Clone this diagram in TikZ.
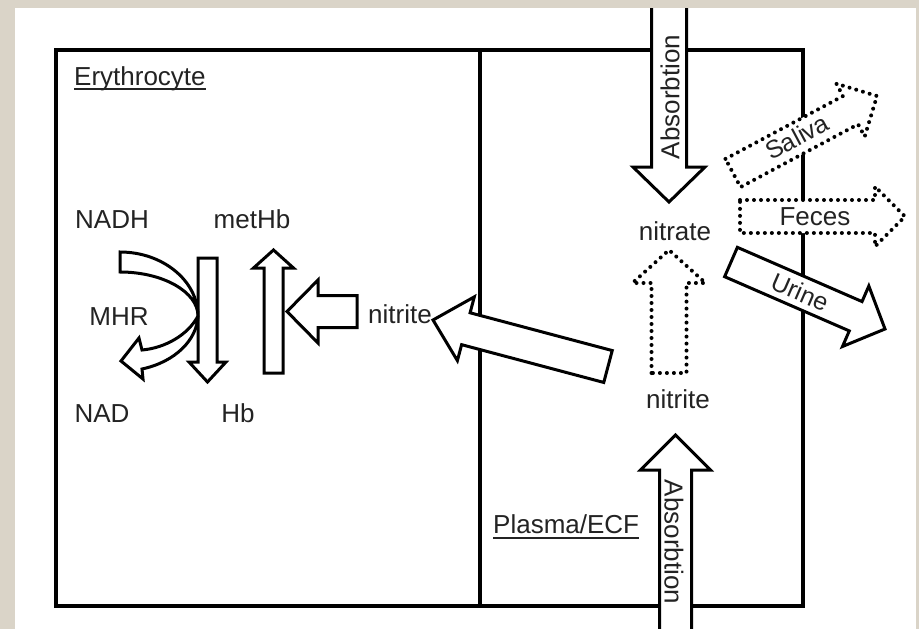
\documentclass[tikz,border=0pt]{standalone}
\usepackage{fontspec}
\setmainfont{Liberation Sans}
\usetikzlibrary{calc}
\definecolor{bgtex}{RGB}{218,212,200}
\definecolor{txt}{RGB}{35,35,35}
% #1 style, #2 from, #3 to, #4 shaft half width, #5 head half width, #6 head length, #7 name
\newcommand\fatarrow[7]{%
  \coordinate (#7h) at ($(#3)!#6pt!(#2)$);
  \path[#1] ($(#2)!#4pt!90:(#3)$) -- ($(#7h)!#4pt!90:(#3)$) -- ($(#7h)!#5pt!90:(#3)$)
    -- (#3) -- ($(#7h)!#5pt!-90:(#3)$) -- ($(#7h)!#4pt!-90:(#3)$) -- ($(#2)!#4pt!-90:(#3)$) -- cycle;}
\begin{document}
\begin{tikzpicture}[x=1pt,y=-1pt,
  lbl/.style={font=\fontsize{26}{28}\selectfont, text=txt, inner sep=0pt},
  slbl/.style={font=\fontsize{25}{27}\selectfont, text=txt, inner sep=0pt},
  solidarrow/.style={draw=black, fill=white, line width=3pt, line join=miter},
  dotarrow/.style={draw=black, fill=white, line width=4pt, dash pattern=on 0pt off 7pt, line cap=round, line join=round},
  boxline/.style={draw=black, line width=3.5pt},
  uline/.style={draw=txt, line width=1.8pt}]
\useasboundingbox (0,0) rectangle (919,629);
\fill[bgtex] (0,0) rectangle (919,629);
\fill[white] (15,8) rectangle (916,629);
\begin{scope}
\clip (15,8) rectangle (916,629);
\draw[boxline] (56,50) rectangle (803,606);
\draw[boxline] (480,50) -- (480,606);
% arrow end points
\coordinate (absTs) at (669,-5);    \coordinate (absTe) at (669,202);
\coordinate (absBs) at (675.5,645); \coordinate (absBe) at (675.5,435);
\coordinate (redS) at (669,373);    \coordinate (redE) at (669,250);
\coordinate (salS) at (733,173);    \coordinate (salE) at (877,96);
\coordinate (fecS) at (740,216.5);  \coordinate (fecE) at (905,216.5);
\coordinate (uriS) at (731,262);    \coordinate (uriE) at (885,329);
\coordinate (inS) at (608,366.5);   \coordinate (inE) at (433,320);
\coordinate (oxS) at (357,311.5);   \coordinate (oxE) at (287,311.5);
\coordinate (upS) at (273.5,373);   \coordinate (upE) at (273.5,250);
\coordinate (dnS) at (207.5,258);   \coordinate (dnE) at (207.5,382);
\fatarrow{solidarrow}{absTs}{absTe}{17.5}{36}{35}{a1}
\fatarrow{solidarrow}{absBs}{absBe}{16}{35}{35}{a2}
\fatarrow{dotarrow}{redS}{redE}{17.5}{36.5}{33}{a3}
\fatarrow{dotarrow}{salS}{salE}{16}{30}{30}{a4}
\fatarrow{dotarrow}{fecS}{fecE}{16.5}{30}{30}{a5}
\fatarrow{solidarrow}{uriS}{uriE}{16}{33}{32}{a6}
\fatarrow{solidarrow}{inS}{inE}{16.5}{33}{34}{a7}
\fatarrow{solidarrow}{oxS}{oxE}{16}{31.5}{31}{a8}
\fatarrow{solidarrow}{upS}{upE}{9.5}{20}{18}{a9}
\fatarrow{solidarrow}{dnS}{dnE}{9.5}{18.5}{20}{a10}
% curved MHR arrow
\draw[solidarrow] (120,252) .. controls (163,252) and (198,281) .. (198,316)
  .. controls (197,340) and (175,362) .. (142,369)
  -- (143,379) -- (121,361) -- (139,338) -- (142,350)
  .. controls (165,348) and (188,335) .. (198,316)
  .. controls (198,292) and (163,272) .. (120,272) -- cycle;
\end{scope}
% labels
\node[lbl, anchor=base west] (ery) at (74,85) {Erythrocyte};
\draw[uline] ($(ery.base west)+(0,4)$) -- ($(ery.base east)+(0,4)$);
\node[lbl, anchor=base west] (plasma) at (493,533) {Plasma/ECF};
\draw[uline] ($(plasma.base west)+(0,5)$) -- ($(plasma.base east)+(0,5)$);
\node[lbl, anchor=base] (nadh) at (112,228) {NADH};
\node[lbl, anchor=base] (methb) at (252,228) {metHb};
\node[lbl, anchor=base] (mhr) at (119,325) {MHR};
\node[lbl, anchor=base] (nad) at (102,422) {NAD};
\node[lbl, anchor=base] (hb) at (238,422) {Hb};
\node[lbl, anchor=base] (nitriteL) at (400,323) {nitrite};
\node[lbl, anchor=base] (nitrate) at (675,240) {nitrate};
\node[lbl, anchor=base] (nitriteR) at (678,408) {nitrite};
\node[lbl, rotate=90] (absT) at (670,97) {Absorbtion};
\node[lbl, rotate=-90] (absB) at (674,542) {Absorbtion};
\node[slbl, rotate=28] (saliva) at (797,137) {Saliva};
\node[lbl] (feces) at (815,217) {Feces};
\node[slbl, rotate=-23.5] (urine) at (800,292) {Urine};
\end{tikzpicture}
\end{document}
